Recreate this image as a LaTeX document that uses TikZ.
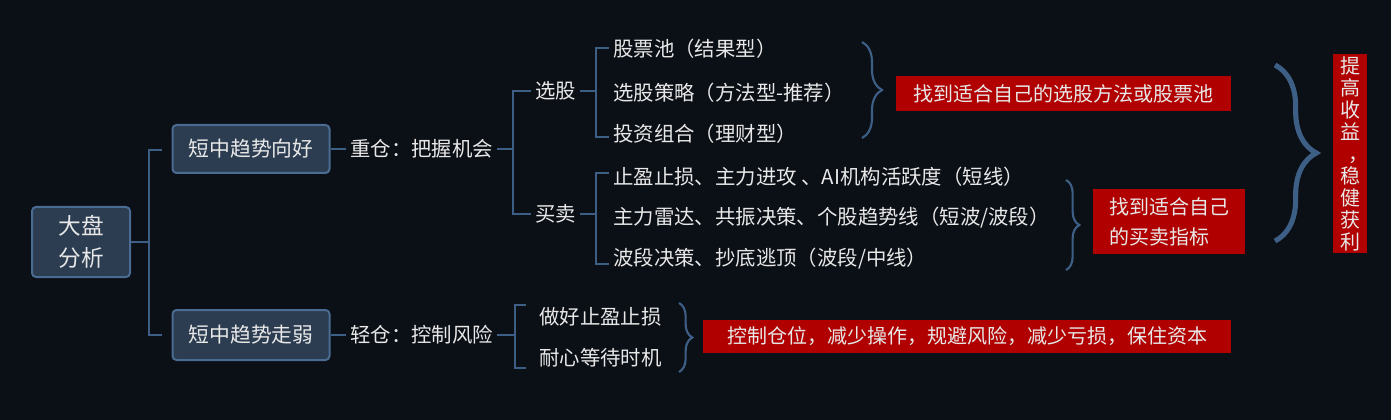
\documentclass[tikz,border=0pt]{standalone}
\usepackage{fontspec}
\setmainfont{Noto Sans CJK SC}
\usetikzlibrary{decorations.pathreplacing}
\definecolor{bg}{HTML}{0B0F16}
\definecolor{ln}{HTML}{3E5F85}
\definecolor{boxfill}{HTML}{2C3D51}
\definecolor{boxdraw}{HTML}{4A6C93}
\definecolor{redbg}{HTML}{B00000}
\definecolor{txt}{HTML}{E8E8E8}
\begin{document}
\begin{tikzpicture}[x=0.75pt,y=-0.75pt,
  conn/.style={draw=ln,line width=1.8pt},
  brc/.style={draw=ln,line width=1.6pt,decorate,decoration={brace,amplitude=#1}},
  lbl/.style={text=txt,font=\fontsize{15.3}{18}\selectfont,inner xsep=3pt,inner ysep=0pt,anchor=west},
  topic/.style={draw=boxdraw,fill=boxfill,rounded corners=3pt,line width=1.5pt,text=txt,
    font=\fontsize{15.6}{18}\selectfont,minimum width=157*0.75pt,minimum height=48*0.75pt,inner sep=0pt},
  rootbox/.style={topic,font=\fontsize{17}{24}\selectfont,align=center,minimum width=98*0.75pt,minimum height=70*0.75pt},
  redbox/.style={fill=redbg,text=txt,font=\fontsize{15}{18}\selectfont,inner sep=0pt}]
\fill[bg] (0,0) rectangle (1391,420);
\useasboundingbox (0,0) rectangle (1391,420);
% level 0 / 1
\node[rootbox] (root) at (81,242) {大盘\\分析};
\node[topic] (b1) at (251,149) {短中趋势向好};
\node[topic,minimum height=50*0.75pt] (b2) at (251,335) {短中趋势走弱};
\coordinate (tr) at (149,242);
\coordinate (tt) at (149,150);
\coordinate (tb) at (149,335);
\coordinate (et) at (162,150);
\coordinate (eb) at (162,335);
\draw[conn] (root.east) -- (tr);
\draw[conn] (et) -- (tt) -- (tb) -- (eb);
% upper branch
\node[lbl] (h1) at (346,149) {重仓：把握机会};
\draw[conn] (b1.east) -- (h1.west);
\node[lbl] (s1) at (531,91) {选股};
\node[lbl] (s2) at (531,214) {买卖};
\coordinate (k1) at (513,149);
\coordinate (k1t) at (513,91);
\coordinate (k1b) at (513,214);
\draw[conn] (h1.east) -- (k1);
\draw[conn] (s1.west) -- (k1t) -- (k1b) -- (s2.west);
% 选股 leaves
\node[lbl] (l1) at (609,49) {股票池（结果型）};
\node[lbl] (l2) at (609,93) {选股策略（方法型-推荐）};
\node[lbl] (l3) at (609,134) {投资组合（理财型）};
\coordinate (k2) at (596,91);
\coordinate (k2t) at (596,48);
\coordinate (k2b) at (596,137);
\draw[conn] (s1.east) -- (k2);
\draw[conn] (l1.west |- k2t) -- (k2t) -- (k2b) -- (l3.west |- k2b);
% 买卖 leaves
\node[lbl] (l4) at (609,177) {止盈止损、主力进攻 、AI机构活跃度（短线）};
\node[lbl] (l5) at (609,218) {主力雷达、共振决策、个股趋势线（短波/波段）};
\node[lbl] (l6) at (609,259) {波段决策、抄底逃顶（波段/中线）};
\coordinate (k3) at (596,214);
\coordinate (k3t) at (596,173);
\coordinate (k3b) at (596,264);
\draw[conn] (s2.east) -- (k3);
\draw[conn] (l4.west |- k3t) -- (k3t) -- (k3b) -- (l6.west |- k3b);
% braces and red boxes (upper)
\coordinate (ba1) at (862,42);
\coordinate (ba2) at (862,138);
\draw[brc=15pt] (ba1) -- (ba2);
\node[redbox,minimum width=335*0.75pt,minimum height=35*0.75pt] (r1) at (1063,94) {找到适合自己的选股方法或股票池};
\coordinate (bb1) at (1066,180);
\coordinate (bb2) at (1066,270);
\draw[brc=10pt] (bb1) -- (bb2);
\node[redbox,minimum width=152*0.75pt,minimum height=65*0.75pt,align=left,font=\fontsize{15}{22}\selectfont] (r2) at (1169,222) {找到适合自己\\的买卖指标};
\coordinate (bc1) at (1275,65);
\coordinate (bc2) at (1275,241);
\draw[brc=31pt,line width=3.8pt] (bc1) -- (bc2);
\node[redbox,minimum width=34*0.75pt,minimum height=199*0.75pt,align=center,font=\fontsize{15}{16.5}\selectfont] (r3) at (1350,154) {提\\高\\收\\益\\\makebox[1em][l]{\hspace{0.42em}，}\\稳\\健\\获\\利};
% lower branch
\node[lbl] (h2) at (346,335) {轻仓：控制风险};
\draw[conn] (b2.east) -- (h2.west);
\node[lbl] (m1) at (535,317) {做好止盈止损};
\node[lbl] (m2) at (535,358) {耐心等待时机};
\coordinate (k4) at (515,335);
\coordinate (k4t) at (515,305);
\coordinate (k4b) at (515,368);
\coordinate (k4te) at (526,305);
\coordinate (k4be) at (526,368);
\draw[conn] (h2.east) -- (k4);
\draw[conn] (k4te) -- (k4t) -- (k4b) -- (k4be);
\coordinate (bd1) at (679,303);
\coordinate (bd2) at (679,372);
\draw[brc=10pt] (bd1) -- (bd2);
\node[redbox,minimum width=528*0.75pt,minimum height=33*0.75pt] (r4) at (967,336) {控制仓位，减少操作，规避风险，减少亏损，保住资本};
\end{tikzpicture}
\end{document}
